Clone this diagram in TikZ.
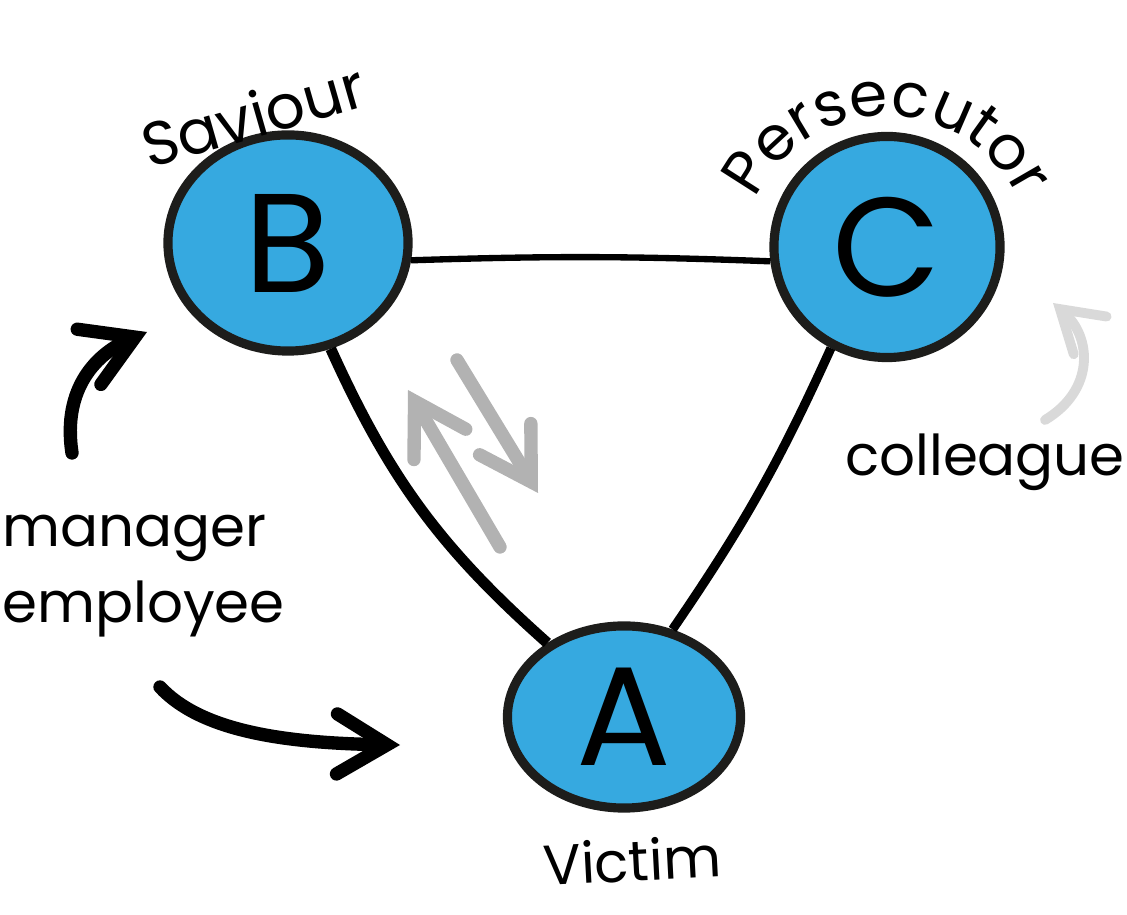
\documentclass[tikz,border=0pt]{standalone}
\usepackage{fontspec}
\setmainfont{Poppins}
\usetikzlibrary{shapes.geometric,arrows.meta,decorations.text}
\newcommand{\rotulo}{\fontsize{16}{19}\selectfont}
\newcommand{\rotulogr}{\fontsize{17.5}{20}\selectfont}
\begin{document}
\begin{tikzpicture}[x=0.01cm,y=0.01cm,
        rol/.style={ellipse,draw=borde,fill=azul,line width=2.6pt,inner sep=0pt,font=\fontsize{40}{40}\selectfont},
        lado/.style={draw=black,line width=#1},
        flecha/.style={line width=3.8pt,line cap=round,-{Straight Barb[length=5mm,width=6mm,line cap=round]}},
        texto/.style={font=\rotulo}]
        %colores
        \definecolor{azul}{RGB}{54,169,224}
        \definecolor{borde}{RGB}{29,29,27}
        \colorlet{gris}{black!30}
        \colorlet{grisclaro}{black!15}

        \useasboundingbox (0,0) rectangle (1127,915);

        % nodos
        \node[rol,minimum width=2.40cm,minimum height=2.16cm] (B) at (288,672) {B};
        \node[rol,minimum width=2.26cm,minimum height=2.21cm] (C) at (887,668) {C};
        \node[rol,minimum width=2.33cm,minimum height=1.82cm] (A) at (624,198) {A};

        % lados del triangulo
        \draw[lado=1.8pt] (B.-8) to[bend left=2] (C.187);
        \draw[lado=3.1pt] (B.-68) to[bend right=12] (A.136);
        \draw[lado=2.6pt] (C.-119) to[bend left=5] (A.61);

        % flechas
        \coordinate (g1) at (500,368); \coordinate (g2) at (408,525);
        \coordinate (g3) at (457,555); \coordinate (g4) at (538,422);
        \draw[flecha,gris] (g1) -- (g2);
        \draw[flecha,gris] (g3) -- (g4);

        \coordinate (m1) at (72,462); \coordinate (m2) at (147,583);
        \draw[flecha] (m1) .. controls (62,528) and (98,562) .. (m2);
        \coordinate (e1) at (160,228); \coordinate (e2) at (400,170);
        \draw[flecha] (e1) .. controls (200,185) and (280,172) .. (e2);

        \coordinate (c1) at (1045,495); \coordinate (c2) at (1053,612);
        \draw[grisclaro,line width=2.8pt,line cap=round,-{Straight Barb[length=4mm,width=5mm,line cap=round]}]
            (c1) .. controls (1095,525) and (1092,578) .. (c2);

        % rotulos
        \node[texto,font=\rotulogr,rotate=16] (sav) at (253,800) {Saviour};
        \path[decorate,decoration={text along path,text align=center,text format delimiters={|}{|},
            text={|\rotulogr|Persecutor}}] (887,653) ++(170:146) arc[start angle=170,end angle=10,radius=146];
        \node[texto] (col) at (985,453) {colleague};
        \node[texto,anchor=base west] (man) at (-10,368) {manager};
        \node[texto,anchor=base west] (emp) at (-10,292) {employee};
        \node[texto,rotate=3] (vic) at (632,55) {Victim};
    \end{tikzpicture}
\end{document}
